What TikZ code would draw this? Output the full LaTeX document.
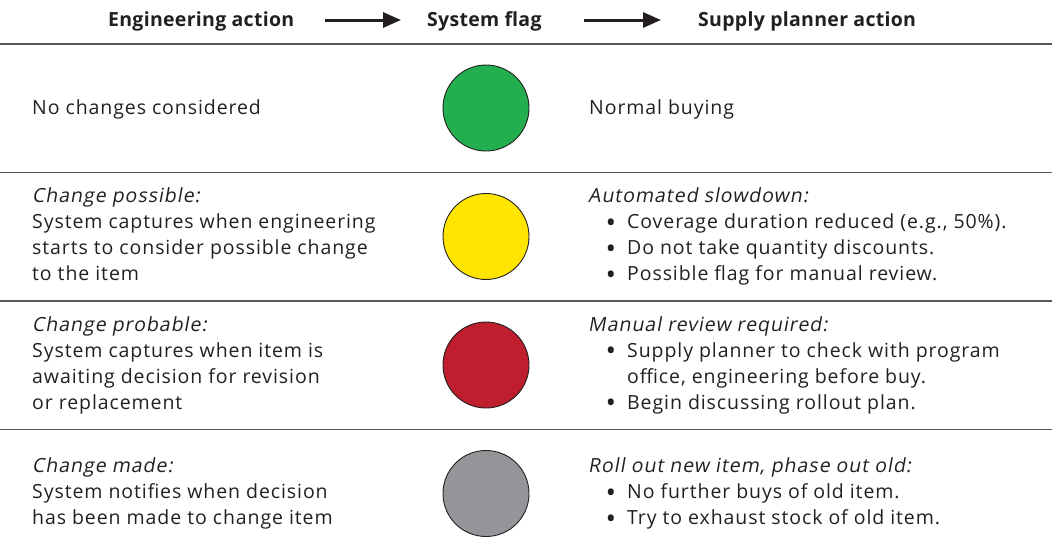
\documentclass[tikz,border=0pt]{standalone}
\usepackage{fontspec}
\setmainfont{Open Sans}[LetterSpace=4.7]
\newfontfamily\slnt{Open Sans}[FakeSlant=0.18, LetterSpace=5]
\newfontfamily\hdfont{Open Sans}[LetterSpace=1.5]
\usetikzlibrary{arrows.meta}
\definecolor{txt}{HTML}{231F20}
\definecolor{rule}{HTML}{58595B}
\definecolor{fgreen}{HTML}{23AE4F}
\definecolor{fyellow}{HTML}{FFE500}
\definecolor{fred}{HTML}{BE1E2D}
\definecolor{fgray}{HTML}{939598}
\tikzset{
  t/.style={anchor=base west, inner sep=0pt, text=txt, text height=14pt, text depth=4pt, font=\fontsize{19.5}{24}\selectfont},
  ti/.style={t, font=\fontsize{19.5}{24}\selectfont\slnt},
  hd/.style={anchor=base west, inner sep=0pt, text=txt, font=\fontsize{19.5}{24}\selectfont\hdfont\bfseries},
  bul/.style={anchor=center, inner sep=0pt, text=txt, font=\fontsize{28}{30}\selectfont},
  sep/.style={draw=rule, line width=1.8pt},
  flag/.style={circle, draw=txt, line width=0.9pt, minimum size=86pt, inner sep=0pt},
  hdarrow/.style={draw=txt, line width=3pt, -{Triangle[length=18pt,width=15pt]}}
}
\begin{document}
\begin{tikzpicture}[x=1pt,y=-1pt]
\useasboundingbox (0,0) rectangle (1052,554);
% header
\node[hd] (h1) at (108,26.5) {Engineering action};
\node[hd] (h2) at (427,26.5) {System flag};
\node[hd] (h3) at (698,26.5) {Supply planner action};
\coordinate (a1s) at (325,20);
\coordinate (a1e) at (401,20);
\coordinate (a2s) at (584,20);
\coordinate (a2e) at (661,20);
\draw[hdarrow] (a1s) -- (a1e);
\draw[hdarrow] (a2s) -- (a2e);
% rules
\coordinate (l0a) at (0,44);    \coordinate (l0b) at (1052,44);
\coordinate (l1a) at (0,172.5); \coordinate (l1b) at (1052,172.5);
\coordinate (l2a) at (0,301);   \coordinate (l2b) at (1052,301);
\coordinate (l3a) at (0,429.5); \coordinate (l3b) at (1052,429.5);
\draw[sep] (l0a) -- (l0b);
\draw[sep] (l1a) -- (l1b);
\draw[sep] (l2a) -- (l2b);
\draw[sep] (l3a) -- (l3b);
% flags
\node[flag, fill=fgreen]  (f1) at (486,108) {};
\node[flag, fill=fyellow] (f2) at (486,236.5) {};
\node[flag, fill=fred]    (f3) at (486,365) {};
\node[flag, fill=fgray]   (f4) at (486,493.5) {};
% row 1
\node[t] (r1l) at (32,114) {No changes considered};
\node[t] (r1r) at (589,114) {Normal buying};
% row 2
\node[ti] (r2l1) at (32,202.5) {Change possible:};
\node[t]  (r2l2) at (32,228.5) {System captures when engineering};
\node[t]  (r2l3) at (32,254.5) {starts to consider possible change};
\node[t]  (r2l4) at (32,280.5) {to the item};
\node[ti] (r2r1) at (588,202.5) {Automated slowdown:};
\node[bul] (r2b2) at (611,225.5) {•};
\node[t]  (r2r2) at (627,228.5) {Coverage duration reduced (e.g., 50\%).};
\node[bul] (r2b3) at (611,251.5) {•};
\node[t]  (r2r3) at (627,254.5) {Do not take quantity discounts.};
\node[bul] (r2b4) at (611,277.5) {•};
\node[t]  (r2r4) at (627,280.5) {Possible flag for manual review.};
% row 3
\node[ti] (r3l1) at (32,331) {Change probable:};
\node[t]  (r3l2) at (32,357) {System captures when item is};
\node[t]  (r3l3) at (32,383) {awaiting decision for revision};
\node[t]  (r3l4) at (32,409) {or replacement};
\node[ti] (r3r1) at (588,331) {Manual review required:};
\node[bul] (r3b2) at (611,354) {•};
\node[t]  (r3r2) at (627,357) {Supply planner to check with program};
\node[t]  (r3r3) at (627,383) {office, engineering before buy.};
\node[bul] (r3b4) at (611,406) {•};
\node[t]  (r3r4) at (627,409) {Begin discussing rollout plan.};
% row 4
\node[ti] (r4l1) at (32,472.5) {Change made:};
\node[t]  (r4l2) at (32,498.5) {System notifies when decision};
\node[t]  (r4l3) at (32,524.5) {has been made to change item};
\node[ti] (r4r1) at (588,472.5) {Roll out new item, phase out old:};
\node[bul] (r4b2) at (611,495.5) {•};
\node[t]  (r4r2) at (627,498.5) {No further buys of old item.};
\node[bul] (r4b3) at (611,521.5) {•};
\node[t]  (r4r3) at (627,524.5) {Try to exhaust stock of old item.};
\end{tikzpicture}
\end{document}
